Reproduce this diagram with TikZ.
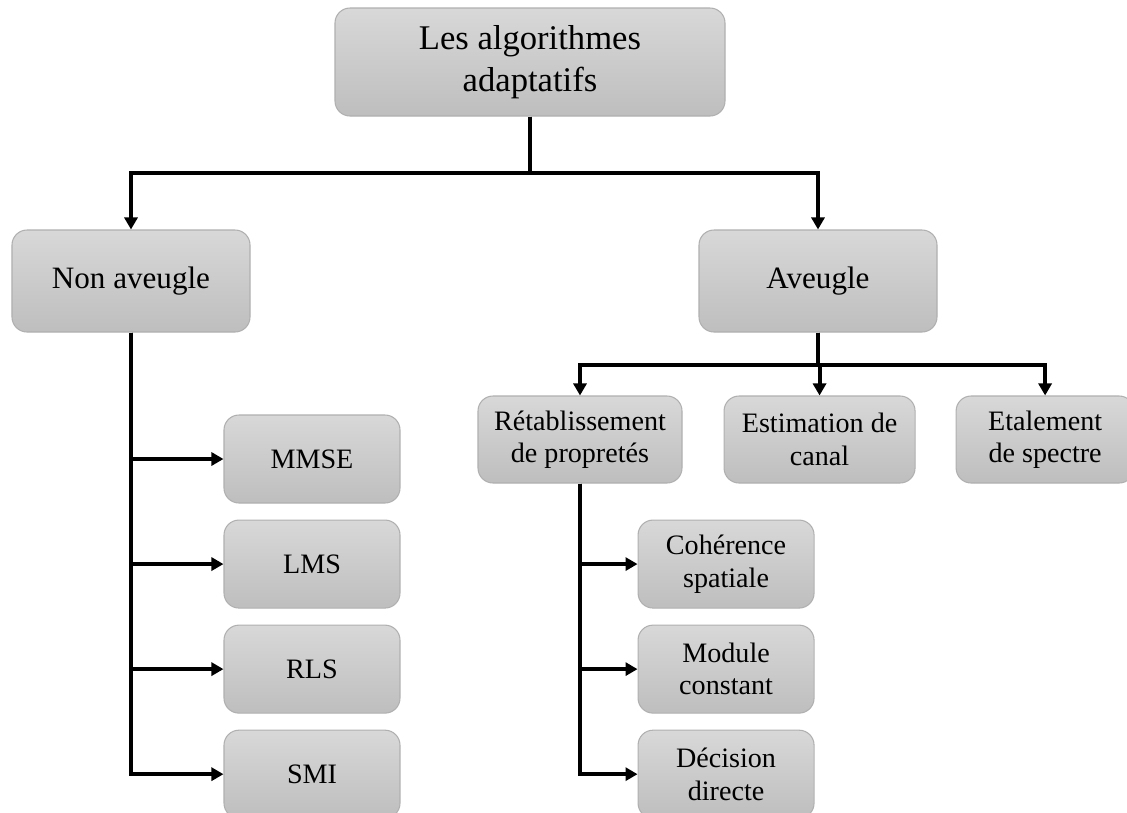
\documentclass[tikz,border=0pt]{standalone}
\usepackage{fontspec}
\setmainfont{Liberation Serif}
\usepackage{tikz}
\usetikzlibrary{positioning}
\usetikzlibrary{arrows.meta}

\definecolor{boxtop}{RGB}{216,216,216}
\definecolor{boxbottom}{RGB}{190,190,190}
\definecolor{boxborder}{RGB}{176,176,176}

\tikzset{
	algobox/.style={draw=boxborder, line width=0.6pt, rounded corners=0.3cm,
		top color=boxtop, bottom color=boxbottom, align=center, inner sep=2pt},
	branch/.style={algobox, minimum width=4.76cm, minimum height=2.04cm,
		font=\fontsize{17.7}{21}\selectfont},
	leaf/.style={algobox, minimum width=3.52cm, minimum height=1.76cm,
		font=\fontsize{16}{18.5}\selectfont},
	link/.style={line width=2.3pt, -{Triangle[length=0.24cm,width=0.26cm]}},
	elbow/.style={to path={|- (\tikztotarget)}}
}

\begin{document}
\begin{tikzpicture}[node distance = 0.32cm]
		\path [use as bounding box, fill=white] (0,0) rectangle (22.54,-16.24);
		\node [algobox, minimum width=7.8cm, minimum height=2.16cm,
				font=\fontsize{19.7}{23.9}\selectfont] (root) at (10.6,-1.24) {Les algorithmes\\adaptatifs};
		\node [branch] (nonav) at (2.62,-5.62) {Non aveugle};
		\node [branch] (av) at (16.36,-5.62) {Aveugle};
		\node [leaf] (mmse) at (6.24,-9.18) {MMSE};
		\node [leaf, below=of mmse] (lms) {LMS};
		\node [leaf, below=of lms] (rls) {RLS};
		\node [leaf, below=of rls] (smi) {SMI};
		\node [leaf, minimum width=4.08cm, minimum height=1.74cm] (ret) at (11.6,-8.79) {Rétablissement\\de propretés};
		\node [leaf, minimum width=3.82cm, minimum height=1.74cm, right=0.82cm of ret] (est) {Estimation de\\canal};
		\node [leaf, minimum width=3.56cm, minimum height=1.74cm, right=0.8cm of est] (eta) {Etalement\\de spectre};
		\node [leaf, right=4.74cm of lms] (coh) {Cohérence\\spatiale};
		\node [leaf, below=of coh] (mod) {Module\\constant};
		\node [leaf, below=of mod] (dec) {Décision\\directe};
		\draw [link] (root.south) -- ++(0,-1.12) -| (nonav.north);
		\draw [link] (root.south) -- ++(0,-1.12) -| (av.north);
		\draw [link] (av.south) -- ++(0,-0.64) -| (ret.north);
		\draw [link] (av.south) -- ++(0,-0.64) -| (est.north);
		\draw [link] (av.south) -- ++(0,-0.64) -| (eta.north);
		\path [link]
			(nonav) edge [elbow] (mmse)
			(nonav) edge [elbow] (lms)
			(nonav) edge [elbow] (rls)
			(nonav) edge [elbow] (smi)
			(ret) edge [elbow] (coh)
			(ret) edge [elbow] (mod)
			(ret) edge [elbow] (dec);
	\end{tikzpicture}
\end{document}
